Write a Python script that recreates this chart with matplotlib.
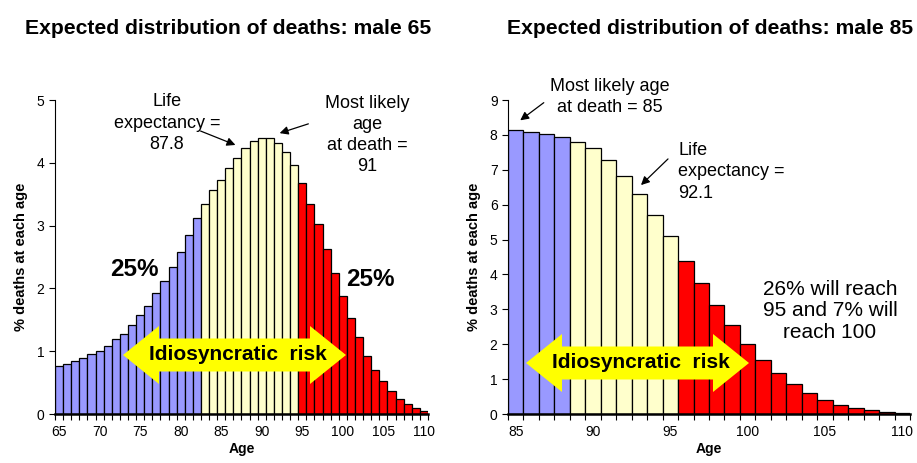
"""Expected distribution of deaths for a male aged 65 and aged 85."""
import matplotlib
matplotlib.use("Agg")

import matplotlib.pyplot as plt
import numpy as np
from matplotlib.patches import FancyArrowPatch, Polygon

plt.rcParams["font.family"] = ["Liberation Sans", "DejaVu Sans"]

# --- data -------------------------------------------------------------------
ages_65 = np.arange(65, 111)
deaths_65 = [0.77, 0.79, 0.84, 0.89, 0.95, 1.01, 1.09, 1.19, 1.28, 1.41,
             1.57, 1.72, 1.92, 2.12, 2.34, 2.58, 2.85, 3.12, 3.34, 3.56,
             3.73, 3.91, 4.08, 4.23, 4.34, 4.39, 4.39, 4.31, 4.17, 3.96,
             3.68, 3.35, 3.02, 2.63, 2.25, 1.88, 1.53, 1.22, 0.93, 0.70,
             0.52, 0.36, 0.24, 0.16, 0.10, 0.05]
bands_65 = (82, 94)  # last blue age, last yellow age

ages_85 = np.arange(85, 111)
deaths_85 = [8.13, 8.07, 8.02, 7.93, 7.81, 7.61, 7.27, 6.82, 6.30, 5.70,
             5.09, 4.39, 3.75, 3.11, 2.54, 2.00, 1.54, 1.17, 0.86, 0.60,
             0.40, 0.26, 0.17, 0.11, 0.07, 0.03]
bands_85 = (88, 95)

BLUE, YELLOW, RED = "#9999FF", "#FFFFCC", "#FF0000"

W, H = 917, 463
fig = plt.figure(figsize=(W / 100, H / 100), dpi=100)


def px(x, y):
    """Pixel position in the reference -> figure fraction."""
    return x / W, 1 - y / H


def panel(rect, ages, deaths, bands, ymax, title, title_x):
    ax = fig.add_axes(rect)
    colors = [BLUE if a <= bands[0] else YELLOW if a <= bands[1] else RED
              for a in ages]
    ax.bar(ages, deaths, width=1.0, color=colors, edgecolor="black",
           linewidth=0.9)
    ax.set_xlim(ages[0] - 0.5, ages[-1] + 0.5)
    ax.set_ylim(0, ymax)
    ax.set_yticks(range(0, ymax + 1))
    first = ages[0] + (-ages[0]) % 5
    ax.set_xticks(np.arange(first, ages[-1] + 1, 5))
    ax.set_xticks(np.arange(ages[0] - 0.5, ages[-1] + 1), minor=True)
    ax.tick_params(axis="x", which="major", length=0, pad=8, labelsize=10)
    ax.tick_params(axis="x", which="minor", length=4, width=0.8)
    ax.tick_params(axis="y", length=4, width=0.8, labelsize=10)
    ax.spines[["top", "right"]].set_visible(False)
    ax.spines["bottom"].set_linewidth(1.8)
    ax.spines["left"].set_linewidth(0.8)
    ax.set_xlabel("Age", fontsize=10, fontweight="bold", labelpad=2)
    ax.set_ylabel("% deaths at each age", fontsize=10.5, fontweight="bold",
                  labelpad=6)
    fig.text(*px(title_x, 28), title, ha="center", va="center",
             fontsize=15.2, fontweight="bold")
    return ax


def double_arrow(x0, x1, y, head_len=36, head_h=29, shaft_h=16.5):
    pts = [(x0, y), (x0 + head_len, y - head_h), (x0 + head_len, y - shaft_h),
           (x1 - head_len, y - shaft_h), (x1 - head_len, y - head_h),
           (x1, y), (x1 - head_len, y + head_h), (x1 - head_len, y + shaft_h),
           (x0 + head_len, y + shaft_h), (x0 + head_len, y + head_h)]
    fig.patches.append(Polygon([px(*p) for p in pts], closed=True,
                               facecolor="#FFFF00", edgecolor="none",
                               transform=fig.transFigure, zorder=5))
    fig.text(*px((x0 + x1) / 2 + 3, y), "Idiosyncratic  risk", ha="center",
             va="center", fontsize=15, fontweight="bold", zorder=6)


def note(text, x, y, size=13, spacing=1.33, **kw):
    fig.text(*px(x, y), text, va="center", fontsize=size,
             linespacing=spacing, **kw)


def pointer(start, tip):
    fig.add_artist(FancyArrowPatch(
        px(*start), px(*tip), transform=fig.transFigure,
        arrowstyle="-|>,head_length=5,head_width=2.5", color="black",
        linewidth=0.9))


# left panel: male 65
ax1 = panel([55 / W, 1 - 414 / H, 373 / W, 314 / H], ages_65, deaths_65,
            bands_65, 5, "Expected distribution of deaths: male 65", 228)
double_arrow(123, 346, 355)
fig.text(*px(134, 270), "25%", ha="center", va="center", fontsize=17.5,
         fontweight="bold")
fig.text(*px(370, 280), "25%", ha="center", va="center", fontsize=17.5,
         fontweight="bold")
note("Life\nexpectancy =\n87.8", 167, 123, ha="center")
pointer((198, 130), (238, 146))
note("Most likely\nage\nat death =\n91", 367, 135, ha="center")
pointer((311, 123), (277, 134))

# right panel: male 85
ax2 = panel([508 / W, 1 - 414 / H, 402 / W, 314 / H], ages_85, deaths_85,
            bands_85, 9, "Expected distribution of deaths: male 85", 710)
double_arrow(526, 749, 363)
note("Most likely age\nat death = 85", 610, 97, spacing=1.25, ha="center")
pointer((546, 101), (518, 122))
note("Life\nexpectancy =\n92.1", 678, 172, ha="left")
pointer((670, 157), (639, 187))
note("26% will reach\n95 and 7% will\nreach 100", 830, 311, size=15,
     spacing=1.15, ha="center")

fig.savefig("out.png", dpi=100, facecolor="white")
